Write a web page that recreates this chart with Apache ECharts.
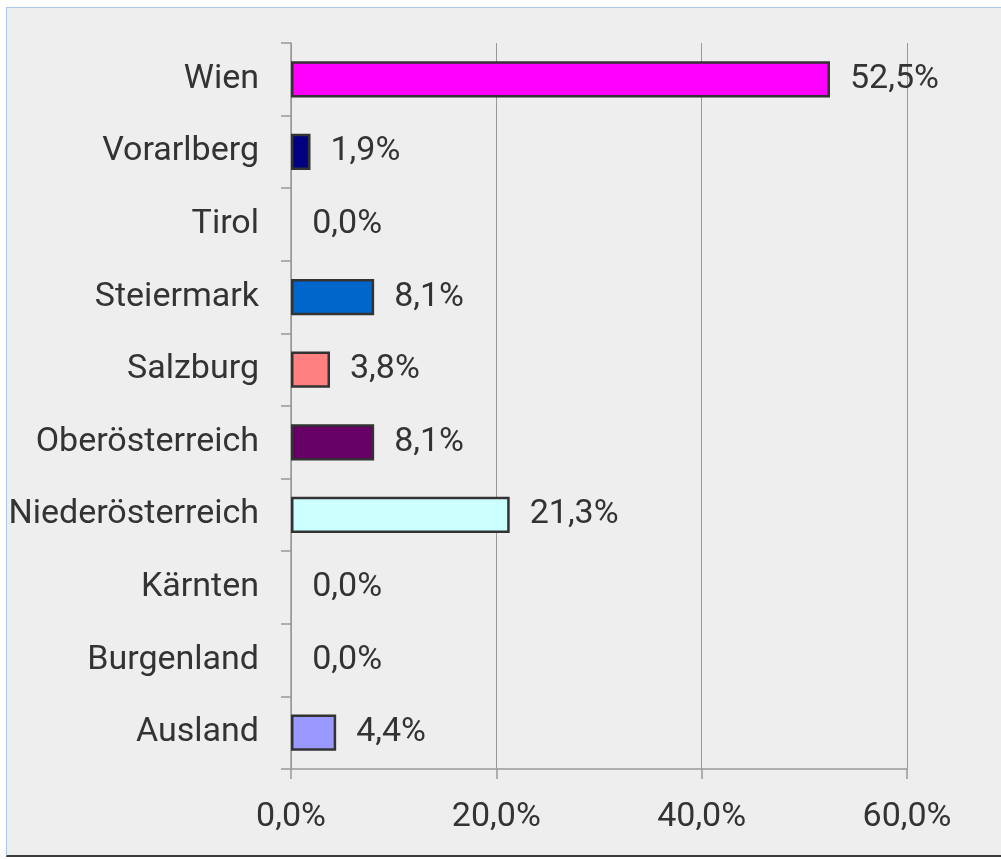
<!DOCTYPE html>
<html>
<head>
<meta charset="utf-8">
<script src="https://cdn.jsdelivr.net/npm/echarts@6/dist/echarts.min.js"></script>
<style>
  html, body { margin: 0; padding: 0; background: #fff; }
  #frame {
    position: absolute; left: 6px; top: 7px; width: 995px; height: 850px;
    background: #eeeeee;
    border-top: 1px solid #a9c6e6; border-left: 1px solid #a9c6e6;
    border-bottom: 2px solid #3a3a3a;
    box-sizing: border-box;
  }
  #chart { position: absolute; left: 0; top: 0; width: 1001px; height: 859px; }
</style>
</head>
<body>
<div id="frame"></div>
<div id="chart"></div>
<script>
// Kategorien von oben nach unten
const categories = ['Wien', 'Vorarlberg', 'Tirol', 'Steiermark', 'Salzburg',
  'Oberösterreich', 'Niederösterreich', 'Kärnten', 'Burgenland', 'Ausland']
const shares = [52.5, 1.9, 0.0, 8.1, 3.8, 8.1, 21.3, 0.0, 0.0, 4.4]
const barColors = ['#ff00ff', '#000080', '#ccccff', '#0066cc', '#ff8080',
  '#660066', '#ccffff', '#ffffcc', '#993366', '#9999ff']
const xTicks = [0, 20, 40, 60]

const FONT = 'Roboto, sans-serif'
const pct = v => v.toFixed(1).replace('.', ',') + '%'

const chart = echarts.init(document.getElementById('chart'))
chart.setOption({
  backgroundColor: 'transparent',
  animation: false,
  grid: { left: 291, right: 94, top: 43, bottom: 90, containLabel: false, outerBoundsMode: 'none' },
  xAxis: {
    type: 'value',
    min: xTicks[0],
    max: xTicks[xTicks.length - 1],
    interval: 20,
    axisLine: { show: true, lineStyle: { color: '#999', width: 1.5 } },
    axisTick: { show: true, length: 10, lineStyle: { color: '#999', width: 1.5 } },
    splitLine: { show: true, lineStyle: { color: '#999', width: 1 } },
    axisLabel: {
      formatter: pct,
      color: '#333',
      fontFamily: FONT,
      fontSize: 34,
      margin: 31
    }
  },
  yAxis: {
    type: 'category',
    data: categories,
    inverse: true,
    axisLine: { show: true, lineStyle: { color: '#999', width: 1.5 } },
    axisTick: { show: true, length: 10, lineStyle: { color: '#999', width: 1.5 } },
    axisLabel: {
      color: '#333',
      fontFamily: FONT,
      fontSize: 34,
      margin: 32
    }
  },
  series: [{
    type: 'bar',
    barWidth: '50%',
    data: shares.map((v, i) => ({
      value: v,
      itemStyle: { color: barColors[i], borderColor: v > 0 ? '#333' : 'transparent', borderWidth: 2.5 }
    })),
    label: {
      show: true,
      position: 'right',
      distance: 20,
      formatter: p => pct(p.value),
      color: '#333',
      fontFamily: FONT,
      fontSize: 34
    }
  }]
})
</script>
</body>
</html>
